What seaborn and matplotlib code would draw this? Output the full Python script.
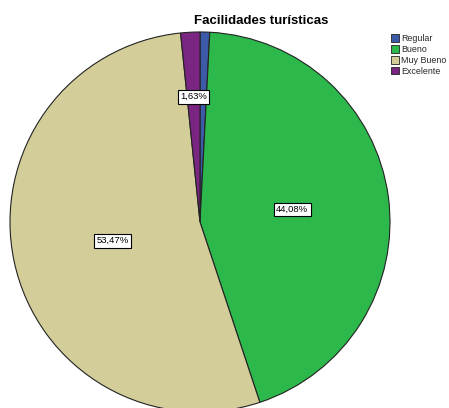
import numpy as np
import matplotlib
matplotlib.use("Agg")
import matplotlib.pyplot as plt
import seaborn as sns

sns.set_theme(style="white")
plt.rcParams["font.family"] = ["Liberation Sans", "DejaVu Sans"]

categories = ["Regular", "Bueno", "Muy Bueno", "Excelente"]
percentages = [0.82, 44.08, 53.47, 1.63]
pct_labels = ["", "44,08%", "53,47%", "1,63%"]
colors = ["#3C5AA8", "#2DB84B", "#D3CE99", "#7B2582"]
label_radius = [0.5, 0.49, 0.47, 0.66]

W, H = 449, 408
fig = plt.figure(figsize=(W / 100, H / 100), dpi=100)
fig.patch.set_facecolor("white")

# pie occupies a square region in pixels
cx, cy, r = 200, 222, 190
ax = fig.add_axes([(cx - r) / W, (H - cy - r) / H, 2 * r / W, 2 * r / H])

wedges, _ = ax.pie(
    percentages,
    colors=colors,
    startangle=90,
    counterclock=False,
    radius=1,
    wedgeprops=dict(edgecolor="#222222", linewidth=0.8),
)
ax.set_aspect("auto")
ax.set_xlim(-1, 1)
ax.set_ylim(-1, 1)
ax.axis("off")

# percentage labels in white boxes
start = 0.0
for pct, lab, rad in zip(percentages, pct_labels, label_radius):
    mid = (start + pct / 2) / 100 * 2 * np.pi
    start += pct
    if not lab:
        continue
    x = rad * np.sin(mid)
    y = rad * np.cos(mid)
    ax.text(x, y, lab, ha="center", va="center", fontsize=6.8, color="black",
            bbox=dict(boxstyle="square,pad=0.25", fc="white", ec="black", lw=0.8))

fig.text(261 / W, 1 - 21 / H, "Facilidades turísticas", ha="center", va="center",
         fontsize=9.5, fontweight="bold", color="black")

leg = fig.legend(
    wedges, categories,
    loc="upper left", bbox_to_anchor=(391 / W, 1 - 34 / H),
    frameon=False, fontsize=6.4, handlelength=0.9, handleheight=0.9,
    handletextpad=0.25, labelspacing=0.22, borderpad=0.0, borderaxespad=0.0,
)
for h in leg.legend_handles:
    h.set_linewidth(0.6)
    h.set_edgecolor("#222222")

fig.savefig("out.png", dpi=100, facecolor="white")
